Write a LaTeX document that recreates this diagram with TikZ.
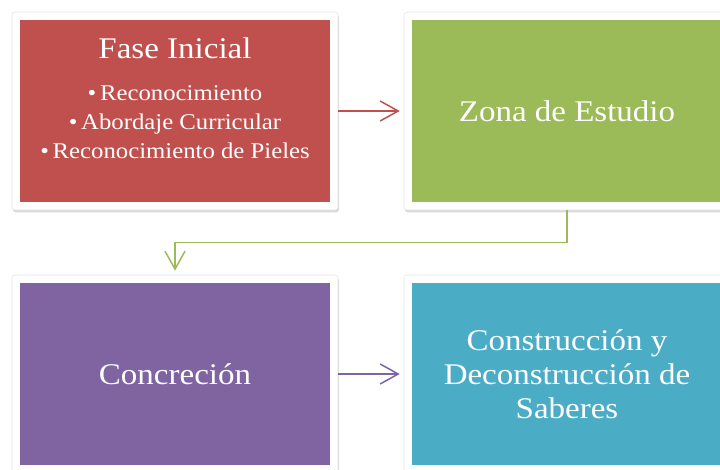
\documentclass[tikz,border=0pt]{standalone}
\usepackage{fontspec}
\setmainfont{Liberation Serif}[FakeStretch=1.1]
\usetikzlibrary{arrows.meta}
\usetikzlibrary{shadows}

\definecolor{faseRed}{RGB}{192,80,77}
\definecolor{zonaGreen}{RGB}{155,187,89}
\definecolor{concPurple}{RGB}{128,100,162}
\definecolor{saberTeal}{RGB}{75,172,198}

\tikzset{
  stageframe/.style={fill=white, draw=black!10, line width=0.6, rounded corners=3, inner sep=0pt,
    minimum width=326, minimum height=198,
    drop shadow={shadow xshift=1pt, shadow yshift=-2.5pt, opacity=0.25, fill=black!60}},
  stage/.style={fill=#1, inner sep=0pt, minimum width=310, minimum height=182,
    text=white, align=center, font=\fontsize{30}{34}\selectfont},
  link/.style={draw=#1, line width=1.5, shorten >=4pt, -{Straight Barb[length=18,width=20,line width=1.5]}}
}

\begin{document}
\begin{tikzpicture}[x=1pt,y=-1pt]
\useasboundingbox (0,0) rectangle (720,470);
\clip (0,0) rectangle (720,470);

% white frames
\node[stageframe] (faseF) at (175,111) {};
\node[stageframe] (zonaF) at (567,111) {};
\node[stageframe] (concF) at (175,374) {};
\node[stageframe] (saberF) at (567,374) {};

% coloured boxes
\node[stage=faseRed] (fase) at (175,111) {};
\node[stage=zonaGreen] (zona) at (567,111) {Zona de Estudio};
\node[stage=concPurple] (conc) at (175,374) {Concreción};
\node[stage=saberTeal] (saber) at (567,374) {Construcción y\\Deconstrucción de\\Saberes};

% text of the first box
\node[text=white, align=center, font=\fontsize{30}{34}\selectfont] (faseT) at (175,48) {Fase Inicial};
\node[text=white, align=center, font=\fontsize{22.5}{29}\selectfont] (faseL) at (175,122)
  {•\,Reconocimiento\\•\,Abordaje Curricular\\•\,Reconocimiento de Pieles};

% connectors
\draw[link=faseRed] (faseF.east) -- (zonaF.west);
\draw[link=zonaGreen] (zonaF.south) -- ++(0,32) -| (concF.north);
\draw[link=concPurple] (concF.east) -- (saberF.west);

\end{tikzpicture}
\end{document}
